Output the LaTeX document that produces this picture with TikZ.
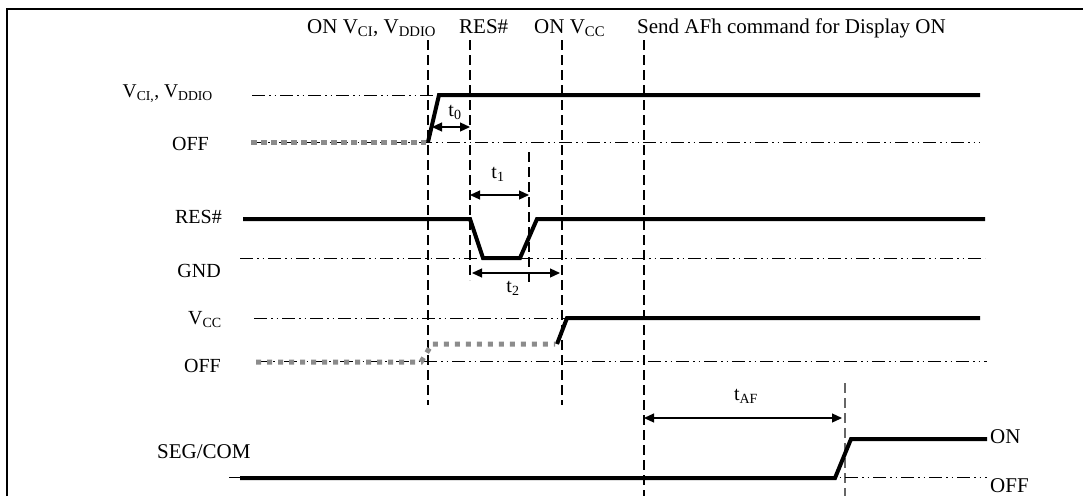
\documentclass[tikz,border=0pt]{standalone}
\usepackage{fontspec}
\setmainfont{Liberation Serif}
\usetikzlibrary{arrows.meta}
\begin{document}
\begin{tikzpicture}[x=1pt,y=-1pt,
  sig/.style={line width=4pt, line join=miter},
  offsig/.style={line width=5pt, draw=black!45, dash pattern=on 6pt off 4pt},
  refline/.style={line width=1pt, dash pattern=on 13pt off 4pt on 1.5pt off 4pt on 1.5pt off 4pt},
  vline/.style={line width=1.2pt, dash pattern=on 10pt off 5pt},
  dim/.style={line width=1.2pt, {Triangle[length=10pt,width=9pt]}-{Triangle[length=10pt,width=9pt]}},
  lbl/.style={font=\fontsize{20}{24}\selectfont, inner sep=0pt},
  hlbl/.style={font=\fontsize{21}{25}\selectfont, inner sep=0pt, anchor=base west},
]
\useasboundingbox (0,0) rectangle (1083,496);
% frame
\draw[line width=1.2pt] (7,496) -- (7,9) -- (1083,9);

% event lines
\draw[vline] (428,40) -- (428,405);
\draw[vline] (470,40) -- (470,280);
\draw[vline] (529,152) -- (529,283);
\draw[vline] (562,40) -- (562,405);
\draw[vline] (644,40) -- (644,496);
\draw[vline, draw=black!60] (845,383) -- (845,496);

% reference levels
\draw[refline] (252,95) -- (440,95);
\draw[refline] (251,142) -- (980,142);
\draw[refline] (240,258) -- (985,258);
\draw[refline] (254,318) -- (980,318);
\draw[refline] (256,361) -- (987,361);
\draw[refline] (229,477) -- (987,477);

% signals
\draw[offsig] (251,142) -- (426,142);
\draw[sig] (428,142) -- (439,95) -- (980,95);

\draw[sig] (243,219) -- (470,219) -- (483,258) -- (520,258) -- (537,219) -- (985,219);

\draw[offsig, dash pattern=on 5pt off 6pt] (256,362) -- (421,362) -- (432,344) -- (555,344);
\draw[sig] (557,344) -- (567,318) -- (980,318);

\draw[sig] (240,478) -- (835,478) -- (851,439) -- (987,439);

% timing dimensions
\coordinate (t0a) at (432,127); \coordinate (t0b) at (470,127);
\coordinate (t1a) at (470,195); \coordinate (t1b) at (529,195);
\coordinate (t2a) at (472,273); \coordinate (t2b) at (560,273);
\coordinate (tafa) at (644,418); \coordinate (tafb) at (842,418);
\draw[dim] (t0a) -- (t0b);
\draw[dim] (t1a) -- (t1b);
\draw[dim] (t2a) -- (t2b);
\draw[dim] (tafa) -- (tafb);
\node[lbl] (lt0) at (455,112) {t\textsubscript{0}};
\node[lbl] (lt1) at (498,174) {t\textsubscript{1}};
\node[lbl] (lt2) at (513,288) {t\textsubscript{2}};
\node[lbl] (ltaf) at (746,396) {t\textsubscript{AF}};

% top labels
\node[hlbl] (h1) at (307,33) {ON V\textsubscript{CI}, V\textsubscript{DDIO}};
\node[hlbl] (h2) at (459,33) {RES\#};
\node[hlbl] (h3) at (534,33) {ON V\textsubscript{CC}};
\node[hlbl] (h4) at (637,33) {Send AFh command for Display ON};

% left labels
\node[lbl, anchor=base east, font=\fontsize{19.5}{23}\selectfont] (l1) at (213,97) {V\textsubscript{CI,}, V\textsubscript{DDIO}};
\node[lbl, anchor=base east] (l2) at (209,150) {OFF};
\node[lbl, anchor=base east] (l3) at (222,223) {RES\#};
\node[lbl, anchor=base east] (l4) at (221,277) {GND};
\node[lbl, anchor=base east] (l5) at (222,324) {V\textsubscript{CC}};
\node[lbl, anchor=base east] (l6) at (221,372) {OFF};
\node[hlbl] (l7) at (157,458) {SEG/COM};

% right labels
\node[hlbl] (r1) at (990,443) {ON};
\node[hlbl] (r2) at (990,492) {OFF};
\end{tikzpicture}
\end{document}
